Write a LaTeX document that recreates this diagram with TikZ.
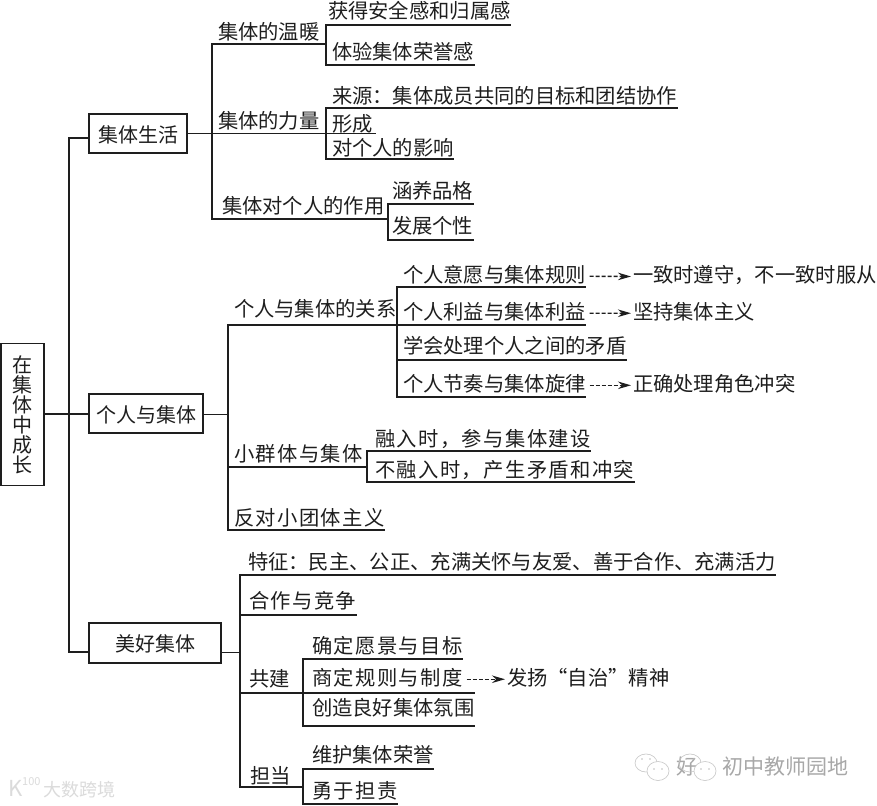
\documentclass[tikz,border=0pt]{standalone}
\usepackage{fontspec}
\setmainfont{Noto Sans CJK SC}
\usetikzlibrary{arrows.meta}
\definecolor{ink}{HTML}{1E1E1E}
\tikzset{
  ln/.style={draw=ink,line width=1.2pt,line cap=rect},
  thin ln/.style={draw=ink,line width=1pt},
  box/.style={draw=ink,line width=1.2pt,fill=white,inner sep=0pt,text=ink,font=\fontsize{20}{20}\selectfont,outer sep=0pt},
  cbox/.style={box,text height=18pt,text depth=0.6pt},
  lbl/.style={anchor=base west,inner sep=0pt,outer sep=0pt,text=ink,yshift=-1.5pt,font=\fontsize{20.3}{20.3}\selectfont},
  wide/.style={anchor=base west,inner sep=0pt,outer sep=0pt,text=ink,yshift=-1.5pt,font=\fontsize{20.3}{20.3}\selectfont\addfontfeature{LetterSpace=7}},
  dasharrow/.style={draw=ink,line width=1.4pt,dash pattern=on 4pt off 2pt,-{Stealth[length=13pt,width=7.5pt]},shorten <=4pt,shorten >=2pt,transform canvas={yshift=-1.5pt}},
  mark wm/.style={inner sep=0pt,anchor=base west,text=gray!68,font=\fontsize{21}{21}\selectfont},
  mark lf/.style={inner sep=0pt,anchor=base west,text=gray!28,font=\fontsize{18}{18}\selectfont},
  bubble/.style={draw=gray!45,line width=.6pt},
  eye/.style={fill=gray!50},
}
\begin{document}
\begin{tikzpicture}[x=1pt,y=-1pt]
\useasboundingbox (0,0) rectangle (877,805);
\fill[white] (0,0) rectangle (877,805);

% ---- main boxes
\node[box,minimum width=43pt,minimum height=142pt,align=center,yshift=-0.5pt] (root) at (22.5,414)
  {\baselineskip=20pt 在\\[0pt]集\\[0pt]体\\[0pt]中\\[0pt]成\\[0pt]长};
\node[cbox,minimum width=98pt,minimum height=39pt] (b1) at (138,133.5) {集体生活};
\node[cbox,minimum width=114pt,minimum height=39pt] (b2) at (146,413.5) {个人与集体};
\node[cbox,minimum width=132pt,minimum height=40pt] (b3) at (155,643) {美好集体};

% ---- root spine
\coordinate (s0a) at (69,138);
\coordinate (s0b) at (69,652);
\coordinate (s0m) at (69,414);
\draw[ln] (s0a) -- (s0b);
\draw[ln] (s0a) -- (s0a -| b1.west);
\draw[ln] (s0b) -- (s0b -| b3.west);
\draw[ln] (root.east |- s0m) -- (s0m -| b2.west);

% ---- group 1 labels
\node[lbl] (a1) at (218,38) {集体的温暖};
\node[lbl] (a11) at (328,17) {获得安全感和归属感};
\node[lbl] (a12) at (332,58) {体验集体荣誉感};
\node[lbl] (a2) at (218,127) {集体的力量};
\node[lbl] (a21) at (332,102) {来源：集体成员共同的目标和团结协作};
\node[lbl] (a22) at (332,130) {形成};
\node[lbl] (a23) at (332,154) {对个人的影响};
\node[lbl] (a3) at (222,212) {集体对个人的作用};
\node[lbl] (a31) at (392,197) {涵养品格};
\node[lbl] (a32) at (392,232) {发展个性};

% ---- group 1 lines
\coordinate (s1t) at (212,44);
\coordinate (s1m) at (212,134);
\coordinate (s1b) at (212,219);
\draw[ln] (s1t) -- (s1b);
\draw[thin ln] (b1.east |- s1m) -- (s1m);
\coordinate (j1) at (326,44);
\coordinate (j1a) at (326,25);
\coordinate (j1b) at (326,65);
\draw[ln] (s1t) -- (j1);
\draw[ln] (j1a) -- (j1b);
\draw[ln] (j1a) -- (j1a -| a11.east);
\draw[ln] (j1b) -- (j1b -| a12.east);
\coordinate (j2a) at (326,108);
\coordinate (j2m) at (326,134);
\coordinate (j2b) at (326,159);
\coordinate (j2e) at (376,134);
\draw[ln] (j2a) -- (j2b);
\draw[thin ln] (s1m) -- (j2e);
\draw[ln] (j2a) -- (j2a -| a21.east);
\draw[ln] (j2b) -- (j2b -| a23.east);
\coordinate (j3) at (388,219);
\coordinate (j3a) at (388,204);
\coordinate (j3b) at (388,240);
\draw[ln] (s1b) -- (j3);
\draw[ln] (j3a) -- (j3b);
\draw[ln] (j3a) -- (j3a -| a31.east);
\draw[ln] (j3b) -- (j3b -| a32.east);

% ---- group 2 labels
\node[lbl] (c1) at (234,315) {个人与集体的关系};
\node[lbl] (c11) at (403,281) {个人意愿与集体规则};
\node[lbl] (c12) at (403,318) {个人利益与集体利益};
\node[lbl] (c13) at (403,352) {学会处理个人之间的矛盾};
\node[lbl] (c14) at (403,390) {个人节奏与集体旋律};
\node[lbl] (d11) at (633,281) {一致时遵守，不一致时服从};
\node[lbl] (d12) at (633,318) {坚持集体主义};
\node[lbl] (d14) at (633,390) {正确处理角色冲突};
\node[wide] (c2) at (234,460) {小群体与集体};
\node[wide] (c21) at (375,445) {融入时，参与集体建设};
\node[wide] (c22) at (375,476) {不融入时，产生矛盾和冲突};
\node[wide] (c3) at (234,524) {反对小团体主义};

% ---- group 2 lines
\coordinate (s2t) at (228,325);
\coordinate (s2m) at (228,414);
\coordinate (s2c) at (228,467);
\coordinate (s2b) at (228,530);
\draw[ln] (s2t) -- (s2b);
\draw[thin ln] (b2.east |- s2m) -- (s2m);
\coordinate (k1a) at (397,287);
\coordinate (k1m) at (397,325);
\coordinate (k1c) at (397,360);
\coordinate (k1b) at (397,397);
\draw[ln] (s2t) -- (k1m);
\draw[ln] (k1a) -- (k1b);
\draw[ln] (k1a) -- (k1a -| c11.east);
\draw[ln] (k1m) -- (k1m -| c12.east);
\draw[ln] (k1c) -- (k1c -| c13.east);
\draw[ln] (k1b) -- (k1b -| c14.east);
\draw[dasharrow] (c11.east) -- (d11.west);
\draw[dasharrow] (c12.east) -- (d12.west);
\draw[dasharrow] (c14.east) -- (d14.west);
\coordinate (k2m) at (367,467);
\coordinate (k2a) at (367,451);
\coordinate (k2b) at (367,482);
\draw[ln] (s2c) -- (k2m);
\draw[ln] (k2a) -- (k2b);
\draw[ln] (k2a) -- (k2a -| c21.east);
\draw[ln] (k2b) -- (k2b -| c22.east);
\draw[ln] (s2b) -- (s2b -| c3.east);

% ---- group 3 labels
\node[lbl] (e1) at (248,568) {特征：民主、公正、充满关怀与友爱、善于合作、充满活力};
\node[wide] (e2) at (249,607) {合作与竞争};
\node[lbl] (e3) at (249,685) {共建};
\node[wide] (e31) at (312,652) {确定愿景与目标};
\node[wide] (e32) at (312,684) {商定规则与制度};
\node[lbl] (e33) at (312,714) {创造良好集体氛围};
\node[lbl] (f32) at (507,684) {发扬“自治”精神};
\node[lbl] (e4) at (250,782) {担当};
\node[lbl] (e41) at (312,761) {维护集体荣誉};
\node[wide] (e42) at (312,797) {勇于担责};

% ---- group 3 lines
\coordinate (s3t) at (240,575);
\coordinate (s3m) at (240,652);
\coordinate (s3c) at (240,615);
\coordinate (s3d) at (240,693);
\coordinate (s3b) at (240,787);
\draw[ln] (s3t) -- (s3b);
\draw[thin ln] (b3.east |- s3m) -- (s3m);
\draw[ln] (s3t) -- (s3t -| e1.east);
\draw[ln] (s3c) -- (s3c -| e2.east);
\coordinate (m1) at (303,693);
\coordinate (m1a) at (303,659);
\coordinate (m1b) at (303,726);
\draw[ln] (s3d) -- (m1 -| e33.east);
\draw[ln] (m1a) -- (m1b);
\draw[ln] (m1a) -- (m1a -| e31.east);
\draw[ln] (m1b) -- (m1b -| e33.east);
\draw[dasharrow] (e32.east) -- (f32.west);
\coordinate (m2) at (303,787);
\coordinate (m2a) at (303,769);
\coordinate (m2b) at (303,804);
\draw[ln] (s3b) -- (m2);
\draw[ln] (m2a) -- (m2b);
\draw[ln] (m2a) -- (m2a -| e41.east);
\draw[ln] (m2b) -- (m2b -| e42.east);

% ---- watermarks
\node[mark lf] (wl) at (43,796) {大数跨境};
\node[inner sep=0pt,anchor=base west,text=gray!28,font=\fontsize{22}{22}\selectfont] (wk) at (8,796) {K};
\node[inner sep=0pt,anchor=base west,text=gray!28,font=\fontsize{11}{11}\selectfont] (wn) at (22,785) {100};
\node[mark wm] (w1) at (676,774) {好};
\node[mark wm] (w2) at (722,774) {初中教师园地};
\draw[bubble,fill=white] (646,763) ellipse (11 and 9);
\draw[bubble,fill=white] (658,771) ellipse (11 and 9.5);
\draw[bubble] (690,763) ellipse (11 and 9);
\draw[bubble,fill=white] (705,771) ellipse (11 and 9.5);
\foreach \ex/\ey in {642/759,650/759,654/769,662/769,686/759,694/759,701/769,709/769}
  \fill[eye] (\ex,\ey) circle (.8);
\end{tikzpicture}
\end{document}
